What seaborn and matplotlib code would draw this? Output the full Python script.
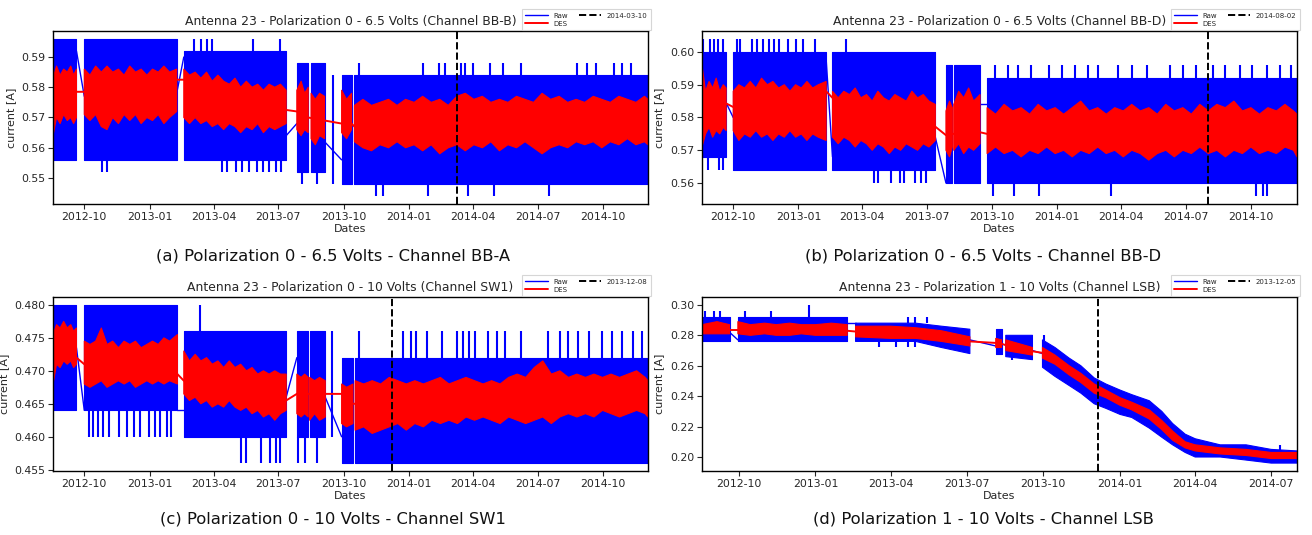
import numpy as np
import pandas as pd
import matplotlib
matplotlib.use("Agg")
import matplotlib.pyplot as plt
import matplotlib.dates as mdates
import seaborn as sns

# ---------------- (a) Channel BB-B ----------------
A_TITLE = "Antenna 23 - Polarization 0 - 6.5 Volts (Channel BB-B)"
A_CAPTION = "(a) Polarization 0 - 6.5 Volts - Channel BB-A"
A_EVENT = "2014-03-10"
A_RAW_DATES = ["2012-08-18", "2012-09-20", "2012-09-25", "2012-10-01", "2013-02-08", "2013-02-13",
               "2013-02-18", "2013-07-12", "2013-07-20", "2013-07-27", "2013-08-12", "2013-08-14",
               "2013-08-16", "2013-09-04", "2013-09-15", "2013-09-28", "2013-10-12", "2013-10-14",
               "2013-10-16", "2014-12-03"]
A_RAW_LO = [0.556, 0.556, None, 0.556, 0.556, None, 0.556, 0.556, None, 0.552, 0.552, None,
            0.552, 0.552, None, 0.548, 0.548, None, 0.548, 0.548]
A_RAW_HI = [0.596, 0.596, None, 0.596, 0.596, None, 0.592, 0.592, None, 0.588, 0.588, None,
            0.588, 0.588, None, 0.584, 0.584, None, 0.584, 0.584]
A_SPIKE_DATES = ["2012-10-26", "2012-11-02",
                 "2013-03-05", "2013-03-14", "2013-03-22", "2013-03-30", "2013-05-26", "2013-07-03",
                 "2013-04-13", "2013-04-20", "2013-05-02", "2013-05-11", "2013-05-21", "2013-06-01",
                 "2013-06-09", "2013-06-18", "2013-06-27", "2013-07-05",
                 "2013-08-03", "2013-08-24", "2013-09-16",
                 "2013-10-22", "2014-01-20", "2014-02-12", "2014-02-20", "2014-03-15", "2014-03-20",
                 "2014-04-01", "2014-04-25", "2014-05-13", "2014-06-08", "2014-08-25", "2014-09-08",
                 "2014-09-21", "2014-10-16", "2014-10-27", "2014-11-09",
                 "2013-11-15", "2013-11-25", "2014-01-28", "2014-03-25", "2014-05-01", "2014-07-17"]
A_SPIKE_LO = [0.552] * 2 + [0.592] * 6 + [0.552] * 10 + [0.548] * 2 + [0.548] + [0.584] * 16 + [0.544] * 6
A_SPIKE_HI = [0.556] * 2 + [0.596] * 6 + [0.556] * 10 + [0.552] * 2 + [0.584] + [0.588] * 16 + [0.548] * 6
A_LINK_START = ["2012-09-20", "2013-02-08", "2013-07-12", "2013-09-04"]
A_LINK_END = ["2012-10-01", "2013-02-18", "2013-07-27", "2013-09-28"]
A_LINK_V0 = [0.592, 0.578, 0.564, 0.562]
A_LINK_V1 = [0.577, 0.590, 0.568, 0.556]
A_DES_DATES = ["2012-08-18", "2012-08-23", "2012-08-28", "2012-09-02", "2012-09-07", "2012-09-12",
               "2012-09-16", "2012-09-20", "2012-09-25",
               "2012-10-01", "2012-10-09", "2012-10-17", "2012-10-25", "2012-11-02", "2012-11-10",
               "2012-11-18", "2012-11-26", "2012-12-04", "2012-12-12", "2012-12-20", "2012-12-28",
               "2013-01-05", "2013-01-13", "2013-01-21", "2013-01-29", "2013-02-08", "2013-02-13",
               "2013-02-18", "2013-02-26", "2013-03-06", "2013-03-14", "2013-03-22", "2013-03-30",
               "2013-04-07", "2013-04-15", "2013-04-23", "2013-05-01", "2013-05-09", "2013-05-17",
               "2013-05-25", "2013-06-02", "2013-06-10", "2013-06-18", "2013-06-26", "2013-07-04",
               "2013-07-12", "2013-07-20",
               "2013-07-27", "2013-08-02", "2013-08-07", "2013-08-12", "2013-08-14",
               "2013-08-16", "2013-08-22", "2013-08-28", "2013-09-04", "2013-09-15",
               "2013-09-28", "2013-10-05", "2013-10-12", "2013-10-14",
               "2013-10-16", "2013-10-28", "2013-11-09", "2013-11-21", "2013-12-03", "2013-12-15",
               "2013-12-27", "2014-01-08", "2014-01-20", "2014-02-01", "2014-02-13", "2014-02-25",
               "2014-03-09", "2014-03-21", "2014-04-02", "2014-04-14", "2014-04-26", "2014-05-08",
               "2014-05-20", "2014-06-01", "2014-06-13", "2014-06-25", "2014-07-07", "2014-07-19",
               "2014-07-31", "2014-08-12", "2014-08-24", "2014-09-05", "2014-09-17", "2014-09-29",
               "2014-10-11", "2014-10-23", "2014-11-04", "2014-11-16", "2014-11-28", "2014-12-03"]
A_DES_LO = [0.564, 0.570, 0.568, 0.571, 0.569, 0.570, 0.568, 0.570, None,
            0.571, 0.569, 0.571, 0.567, 0.566, 0.570, 0.568, 0.571, 0.569, 0.571, 0.568, 0.570,
            0.569, 0.571, 0.568, 0.570, 0.572, None,
            0.570, 0.568, 0.570, 0.568, 0.569, 0.567, 0.568, 0.566, 0.568, 0.567, 0.565, 0.567,
            0.566, 0.568, 0.565, 0.567, 0.566, 0.567, 0.568, None,
            0.566, 0.564, 0.566, 0.565, None,
            0.563, 0.561, 0.564, 0.563, None,
            0.565, 0.563, 0.566, None,
            0.562, 0.560, 0.559, 0.561, 0.560, 0.562, 0.560, 0.561, 0.559, 0.561, 0.558, 0.560,
            0.561, 0.559, 0.561, 0.560, 0.562, 0.559, 0.561, 0.560, 0.562, 0.560, 0.558, 0.560,
            0.561, 0.560, 0.562, 0.561, 0.562, 0.560, 0.562, 0.561, 0.563, 0.561, 0.562, 0.561]
A_DES_HI = [0.583, 0.587, 0.584, 0.586, 0.585, 0.587, 0.584, 0.586, None,
            0.586, 0.584, 0.587, 0.585, 0.587, 0.585, 0.586, 0.584, 0.587, 0.585, 0.586, 0.584,
            0.586, 0.585, 0.587, 0.585, 0.586, None,
            0.586, 0.584, 0.585, 0.583, 0.585, 0.582, 0.584, 0.582, 0.581, 0.583, 0.580, 0.582,
            0.580, 0.581, 0.579, 0.581, 0.580, 0.581, 0.579, None,
            0.579, 0.582, 0.578, 0.580, None,
            0.578, 0.576, 0.578, 0.577, None,
            0.579, 0.576, 0.578, None,
            0.574, 0.576, 0.574, 0.575, 0.576, 0.574, 0.576, 0.575, 0.577, 0.575, 0.576, 0.574,
            0.577, 0.578, 0.576, 0.577, 0.575, 0.576, 0.575, 0.577, 0.576, 0.575, 0.578, 0.576,
            0.577, 0.575, 0.576, 0.575, 0.577, 0.576, 0.575, 0.577, 0.576, 0.575, 0.577, 0.576]
A_MID_DATES = ["2012-08-18", "2012-09-20", "2012-10-01", "2013-02-08", "2013-02-18", "2013-07-12",
               "2013-07-27", "2013-08-12", "2013-09-04", "2013-09-28", "2013-10-12", "2013-10-16",
               "2014-12-03"]
A_MID = [0.577, 0.5785, 0.5785, 0.5825, 0.5825, 0.5725, 0.572, 0.570, 0.569, 0.568, 0.568, 0.567, 0.568]

# ---------------- (b) Channel BB-D ----------------
B_TITLE = "Antenna 23 - Polarization 0 - 6.5 Volts (Channel BB-D)"
B_CAPTION = "(b) Polarization 0 - 6.5 Volts - Channel BB-D"
B_EVENT = "2014-08-02"
B_RAW_DATES = ["2012-08-18", "2012-09-21", "2012-09-25", "2012-10-01", "2013-02-09", "2013-02-13",
               "2013-02-18", "2013-07-13", "2013-07-20", "2013-07-28", "2013-08-06", "2013-08-07",
               "2013-08-08", "2013-09-14", "2013-09-18", "2013-09-24", "2014-12-05"]
B_RAW_LO = [0.568, 0.568, None, 0.564, 0.564, None, 0.564, 0.564, None, 0.560, 0.560, None,
            0.560, 0.560, None, 0.560, 0.560]
B_RAW_HI = [0.600, 0.600, None, 0.600, 0.600, None, 0.600, 0.600, None, 0.596, 0.596, None,
            0.596, 0.596, None, 0.592, 0.592]
B_SPIKE_DATES = ["2012-08-19", "2012-08-29", "2012-09-04", "2012-09-09", "2012-09-17",
                 "2012-08-26", "2012-09-11", "2012-09-16",
                 "2012-10-07", "2012-10-11", "2012-10-28", "2012-11-04", "2012-11-12", "2012-11-21",
                 "2012-11-28", "2012-12-05", "2012-12-17", "2012-12-29", "2013-01-08", "2013-01-24",
                 "2013-03-09",
                 "2013-04-17", "2013-04-23", "2013-05-12", "2013-05-24", "2013-05-30", "2013-06-14",
                 "2013-06-23", "2013-06-30",
                 "2013-10-05", "2013-10-23", "2013-11-07", "2013-11-25", "2013-12-21", "2014-01-08",
                 "2014-01-26", "2014-02-13", "2014-02-28", "2014-03-27", "2014-04-16", "2014-05-07",
                 "2014-06-09", "2014-06-27", "2014-07-15", "2014-08-08", "2014-08-25", "2014-09-15",
                 "2014-10-03", "2014-10-24", "2014-11-11", "2014-11-26",
                 "2013-10-02", "2013-11-01", "2013-12-06", "2014-03-18", "2014-10-08", "2014-10-18",
                 "2014-10-24"]
B_SPIKE_LO = [0.600] * 5 + [0.564] * 3 + [0.600] * 12 + [0.600] + [0.560] * 8 + [0.592] * 22 + [0.556] * 7
B_SPIKE_HI = [0.604] * 5 + [0.568] * 3 + [0.604] * 12 + [0.604] + [0.564] * 8 + [0.596] * 22 + [0.560] * 7
B_LINK_START = ["2012-09-21", "2013-02-09", "2013-07-13", "2013-09-14"]
B_LINK_END = ["2012-10-01", "2013-02-18", "2013-07-28", "2013-09-24"]
B_LINK_V0 = [0.5845, 0.598, 0.574, 0.584]
B_LINK_V1 = [0.580, 0.568, 0.560, 0.584]
B_DES_DATES = ["2012-08-18", "2012-08-23", "2012-08-28", "2012-09-02", "2012-09-07", "2012-09-12",
               "2012-09-17", "2012-09-21", "2012-09-25",
               "2012-10-01", "2012-10-09", "2012-10-17", "2012-10-25", "2012-11-02", "2012-11-10",
               "2012-11-18", "2012-11-26", "2012-12-04", "2012-12-12", "2012-12-20", "2012-12-28",
               "2013-01-05", "2013-01-13", "2013-01-21", "2013-01-29", "2013-02-09", "2013-02-13",
               "2013-02-18", "2013-02-26", "2013-03-06", "2013-03-14", "2013-03-22", "2013-03-30",
               "2013-04-07", "2013-04-15", "2013-04-23", "2013-05-01", "2013-05-09", "2013-05-17",
               "2013-05-25", "2013-06-02", "2013-06-10", "2013-06-18", "2013-06-26", "2013-07-04",
               "2013-07-13", "2013-07-20",
               "2013-07-28", "2013-08-02", "2013-08-06", "2013-08-07",
               "2013-08-08", "2013-08-15", "2013-08-22", "2013-08-29", "2013-09-05", "2013-09-14",
               "2013-09-18",
               "2013-09-24", "2013-10-06", "2013-10-18", "2013-10-30", "2013-11-11", "2013-11-23",
               "2013-12-05", "2013-12-17", "2013-12-29", "2014-01-10", "2014-01-22", "2014-02-03",
               "2014-02-15", "2014-02-27", "2014-03-11", "2014-03-23", "2014-04-04", "2014-04-16",
               "2014-04-28", "2014-05-10", "2014-05-22", "2014-06-03", "2014-06-15", "2014-06-27",
               "2014-07-09", "2014-07-21", "2014-08-02", "2014-08-14", "2014-08-26", "2014-09-07",
               "2014-09-19", "2014-10-01", "2014-10-13", "2014-10-25", "2014-11-06", "2014-11-18",
               "2014-11-30", "2014-12-05"]
B_DES_LO = [0.571, 0.575, 0.577, 0.574, 0.576, 0.575, 0.577, 0.576, None,
            0.576, 0.573, 0.575, 0.574, 0.576, 0.574, 0.575, 0.573, 0.575, 0.574, 0.576, 0.574,
            0.575, 0.573, 0.575, 0.574, 0.573, None,
            0.574, 0.572, 0.574, 0.573, 0.571, 0.573, 0.572, 0.570, 0.572, 0.571, 0.569, 0.571,
            0.570, 0.572, 0.571, 0.570, 0.572, 0.571, 0.573, None,
            0.570, 0.568, 0.571, None,
            0.570, 0.572, 0.569, 0.571, 0.570, 0.572, None,
            0.569, 0.571, 0.569, 0.570, 0.568, 0.570, 0.569, 0.571, 0.569, 0.570, 0.568, 0.570,
            0.569, 0.571, 0.569, 0.570, 0.568, 0.570, 0.569, 0.567, 0.569, 0.570, 0.568, 0.570,
            0.569, 0.571, 0.569, 0.570, 0.568, 0.570, 0.569, 0.571, 0.569, 0.570, 0.569, 0.571,
            0.570, 0.568]
B_DES_HI = [0.596, 0.588, 0.591, 0.589, 0.592, 0.588, 0.590, 0.589, None,
            0.588, 0.590, 0.589, 0.591, 0.589, 0.592, 0.590, 0.591, 0.589, 0.590, 0.588, 0.590,
            0.589, 0.591, 0.589, 0.590, 0.591, None,
            0.588, 0.586, 0.588, 0.587, 0.589, 0.586, 0.587, 0.585, 0.588, 0.586, 0.585, 0.587,
            0.586, 0.585, 0.588, 0.586, 0.587, 0.585, 0.584, None,
            0.582, 0.585, 0.583, None,
            0.584, 0.588, 0.586, 0.589, 0.585, 0.587, None,
            0.583, 0.581, 0.584, 0.582, 0.583, 0.581, 0.584, 0.582, 0.583, 0.581, 0.583, 0.585,
            0.582, 0.583, 0.581, 0.583, 0.582, 0.584, 0.582, 0.583, 0.581, 0.584, 0.582, 0.583,
            0.581, 0.584, 0.582, 0.584, 0.583, 0.585, 0.582, 0.583, 0.581, 0.583, 0.582, 0.584,
            0.582, 0.581]
B_MID_DATES = ["2012-08-18", "2012-09-21", "2012-10-01", "2013-02-09", "2013-02-18", "2013-07-13",
               "2013-07-28", "2013-08-06", "2013-08-08", "2013-09-14", "2013-09-24", "2014-12-05"]
B_MID = [0.583, 0.5843, 0.5832, 0.588, 0.586, 0.5772, 0.5746, 0.575, 0.575, 0.5755, 0.575, 0.576]

# ---------------- (c) Channel SW1 ----------------
C_TITLE = "Antenna 23 - Polarization 0 - 10 Volts (Channel SW1)"
C_CAPTION = "(c) Polarization 0 - 10 Volts - Channel SW1"
C_EVENT = "2013-12-08"
C_RAW_DATES = ["2012-08-18", "2012-09-20", "2012-09-25", "2012-10-01", "2013-02-09", "2013-02-13",
               "2013-02-18", "2013-07-12", "2013-07-20", "2013-07-27", "2013-08-12", "2013-08-13",
               "2013-08-14", "2013-09-05", "2013-09-15", "2013-09-28", "2013-10-14", "2013-10-15",
               "2013-10-17", "2014-12-03"]
C_RAW_LO = [0.464, 0.464, None, 0.464, 0.464, None, 0.460, 0.460, None, 0.460, 0.460, None,
            0.460, 0.460, None, 0.456, 0.456, None, 0.456, 0.456]
C_RAW_HI = [0.480, 0.480, None, 0.480, 0.480, None, 0.476, 0.476, None, 0.476, 0.476, None,
            0.476, 0.476, None, 0.472, 0.472, None, 0.472, 0.472]
C_SPIKE_DATES = ["2012-10-07", "2012-10-13", "2012-10-20", "2012-10-28", "2012-11-05", "2012-11-19",
                 "2012-11-30", "2012-12-10", "2012-12-19", "2012-12-31", "2013-01-08", "2013-01-16",
                 "2013-01-25", "2013-01-31",
                 "2013-03-13",
                 "2013-05-09", "2013-05-17", "2013-06-07", "2013-06-19", "2013-06-28", "2013-07-04",
                 "2013-07-29", "2013-08-07", "2013-08-25",
                 "2013-09-15",
                 "2013-10-23", "2013-12-24", "2014-01-03", "2014-01-10", "2014-01-26", "2014-02-16",
                 "2014-03-09", "2014-03-18", "2014-03-26", "2014-04-03", "2014-04-22", "2014-05-04",
                 "2014-05-16", "2014-06-08", "2014-07-15", "2014-08-01", "2014-08-12", "2014-08-27",
                 "2014-09-11", "2014-09-29", "2014-10-14", "2014-10-28", "2014-11-12", "2014-11-24"]
C_SPIKE_LO = [0.460] * 14 + [0.476] + [0.456] * 6 + [0.456] * 3 + [0.460] + [0.472] * 24
C_SPIKE_HI = [0.464] * 14 + [0.480] + [0.460] * 6 + [0.460] * 3 + [0.476] + [0.476] * 24
C_LINK_START = ["2012-09-20", "2013-02-09", "2013-07-12", "2013-09-05"]
C_LINK_END = ["2012-10-01", "2013-02-18", "2013-07-27", "2013-09-28"]
C_LINK_V0 = [0.4735, 0.464, 0.466, 0.466]
C_LINK_V1 = [0.464, 0.464, 0.472, 0.460]
C_DES_DATES = ["2012-08-18", "2012-08-23", "2012-08-28", "2012-09-02", "2012-09-07", "2012-09-12",
               "2012-09-16", "2012-09-20", "2012-09-25",
               "2012-10-01", "2012-10-09", "2012-10-17", "2012-10-25", "2012-11-02", "2012-11-10",
               "2012-11-18", "2012-11-26", "2012-12-04", "2012-12-12", "2012-12-20", "2012-12-28",
               "2013-01-05", "2013-01-13", "2013-01-21", "2013-01-29", "2013-02-09", "2013-02-13",
               "2013-02-18", "2013-02-26", "2013-03-06", "2013-03-14", "2013-03-22", "2013-03-30",
               "2013-04-07", "2013-04-15", "2013-04-23", "2013-05-01", "2013-05-09", "2013-05-17",
               "2013-05-25", "2013-06-02", "2013-06-10", "2013-06-18", "2013-06-26", "2013-07-04",
               "2013-07-12", "2013-07-20",
               "2013-07-27", "2013-08-02", "2013-08-07", "2013-08-12", "2013-08-13",
               "2013-08-14", "2013-08-21", "2013-08-28", "2013-09-05", "2013-09-15",
               "2013-09-28", "2013-10-05", "2013-10-14", "2013-10-15",
               "2013-10-17", "2013-10-29", "2013-11-10", "2013-11-22", "2013-12-04", "2013-12-16",
               "2013-12-28", "2014-01-09", "2014-01-21", "2014-02-02", "2014-02-14", "2014-02-26",
               "2014-03-10", "2014-03-22", "2014-04-03", "2014-04-15", "2014-04-27", "2014-05-09",
               "2014-05-21", "2014-06-02", "2014-06-14", "2014-06-26", "2014-07-08", "2014-07-20",
               "2014-08-01", "2014-08-13", "2014-08-25", "2014-09-06", "2014-09-18", "2014-09-30",
               "2014-10-12", "2014-10-24", "2014-11-05", "2014-11-17", "2014-11-29", "2014-12-03"]
C_DES_LO = [0.468, 0.471, 0.4705, 0.4715, 0.471, 0.4715, 0.4705, 0.471, None,
            0.468, 0.4675, 0.468, 0.4685, 0.4675, 0.468, 0.4685, 0.468, 0.4685, 0.4675, 0.468,
            0.4685, 0.468, 0.4685, 0.468, 0.4685, 0.468, None,
            0.4665, 0.4655, 0.466, 0.465, 0.4655, 0.4645, 0.465, 0.4645, 0.4655, 0.4645, 0.464,
            0.4645, 0.4635, 0.464, 0.463, 0.4635, 0.4625, 0.4635, 0.464, None,
            0.4635, 0.463, 0.4635, 0.463, None,
            0.4625, 0.4635, 0.4625, 0.463, None,
            0.462, 0.4615, 0.462, None,
            0.461, 0.4615, 0.4605, 0.461, 0.4615, 0.462, 0.461, 0.462, 0.4615, 0.4625, 0.462,
            0.4625, 0.462, 0.463, 0.4625, 0.463, 0.4625, 0.462, 0.463, 0.4625, 0.462, 0.4625,
            0.463, 0.462, 0.463, 0.4635, 0.463, 0.4635, 0.463, 0.464, 0.4635, 0.463, 0.4635,
            0.464, 0.4635, 0.463]
C_DES_HI = [0.4755, 0.477, 0.4765, 0.4775, 0.4765, 0.477, 0.476, 0.4765, None,
            0.4745, 0.474, 0.4745, 0.4765, 0.474, 0.4745, 0.4735, 0.4745, 0.474, 0.4745, 0.4735,
            0.474, 0.4745, 0.474, 0.475, 0.4745, 0.4755, None,
            0.473, 0.4715, 0.4725, 0.4715, 0.472, 0.471, 0.4715, 0.4705, 0.4715, 0.4705, 0.471,
            0.470, 0.4705, 0.4695, 0.470, 0.4695, 0.470, 0.4695, 0.4695, None,
            0.4695, 0.469, 0.4695, 0.469, None,
            0.469, 0.4685, 0.469, 0.4685, None,
            0.468, 0.4675, 0.468, None,
            0.4685, 0.468, 0.4685, 0.468, 0.469, 0.4685, 0.468, 0.4685, 0.468, 0.4685, 0.469,
            0.468, 0.4685, 0.469, 0.4685, 0.468, 0.4685, 0.468, 0.469, 0.4695, 0.469, 0.4705,
            0.4715, 0.4695, 0.470, 0.469, 0.4695, 0.469, 0.4695, 0.469, 0.4695, 0.469, 0.4695,
            0.470, 0.469, 0.4685]
C_MID_DATES = ["2012-08-18", "2012-09-20", "2012-10-01", "2013-02-09", "2013-02-18", "2013-07-12",
               "2013-07-27", "2013-09-05", "2013-09-28", "2013-10-14", "2013-10-17", "2014-06-01",
               "2014-12-03"]
C_MID = [0.4735, 0.472, 0.471, 0.4695, 0.4685, 0.4655, 0.4665, 0.4665, 0.4665, 0.465, 0.465, 0.4658, 0.466]

# ---------------- (d) Channel LSB ----------------
D_TITLE = "Antenna 23 - Polarization 1 - 10 Volts (Channel LSB)"
D_CAPTION = "(d) Polarization 1 - 10 Volts - Channel LSB"
D_EVENT = "2013-12-05"
D_RAW_DATES = ["2012-08-18", "2012-09-20", "2012-09-25", "2012-09-30", "2013-02-08", "2013-02-13",
               "2013-02-18", "2013-05-01", "2013-06-01", "2013-07-05", "2013-07-20", "2013-08-05",
               "2013-08-12", "2013-08-15", "2013-08-17", "2013-09-18", "2013-09-24", "2013-09-30",
               "2013-10-15", "2013-11-01", "2013-11-15", "2013-12-01", "2013-12-15", "2014-01-01",
               "2014-01-15", "2014-02-05", "2014-02-20", "2014-03-05", "2014-03-20", "2014-04-01",
               "2014-05-01", "2014-06-01", "2014-07-01", "2014-08-01"]
D_RAW_LO = [0.276, 0.276, None, 0.276, 0.276, None, 0.276, 0.276, 0.272, 0.268, None, 0.268,
            0.268, None, 0.266, 0.264, None, 0.259, 0.253, 0.247, 0.242, 0.235, 0.232, 0.228,
            0.226, 0.219, 0.213, 0.208, 0.203, 0.200, 0.200, 0.198, 0.196, 0.196]
D_RAW_HI = [0.292, 0.292, None, 0.292, 0.292, None, 0.288, 0.288, 0.286, 0.284, None, 0.284,
            0.284, None, 0.280, 0.280, None, 0.277, 0.272, 0.265, 0.260, 0.252, 0.248, 0.244,
            0.241, 0.237, 0.230, 0.222, 0.215, 0.212, 0.208, 0.208, 0.205, 0.204]
D_SPIKE_DATES = ["2012-08-22", "2012-09-01", "2012-09-09", "2012-10-08", "2012-11-09", "2012-12-24",
                 "2013-03-18", "2013-04-07", "2013-04-22", "2013-04-30",
                 "2013-04-22", "2013-04-30", "2013-05-15",
                 "2013-08-25", "2013-10-02", "2014-07-12"]
D_SPIKE_LO = [0.292] * 6 + [0.272] * 4 + [0.288] * 3 + [0.264, 0.276, 0.204]
D_SPIKE_HI = [0.296] * 5 + [0.300] + [0.276] * 4 + [0.292] * 3 + [0.268, 0.280, 0.208]
D_LINK_START = ["2012-09-20", "2013-02-08", "2013-07-05", "2013-09-18"]
D_LINK_END = ["2012-09-30", "2013-02-18", "2013-08-05", "2013-09-30"]
D_LINK_V0 = [0.282, 0.288, 0.277, 0.270]
D_LINK_V1 = [0.277, 0.288, 0.273, 0.268]
D_DES_DATES = ["2012-08-18", "2012-09-05", "2012-09-20", "2012-09-25",
               "2012-09-30", "2012-10-15", "2012-11-01", "2012-11-15", "2012-12-01", "2012-12-15",
               "2013-01-01", "2013-01-20", "2013-02-08", "2013-02-13",
               "2013-02-18", "2013-04-01", "2013-05-01", "2013-06-01", "2013-07-05", "2013-07-20",
               "2013-08-05", "2013-08-12", "2013-08-15",
               "2013-08-17", "2013-09-18", "2013-09-24",
               "2013-09-30", "2013-10-15", "2013-11-01", "2013-11-15", "2013-12-01", "2013-12-15",
               "2014-01-01", "2014-01-15", "2014-02-05", "2014-02-20", "2014-03-05", "2014-03-20",
               "2014-04-01", "2014-05-01", "2014-06-01", "2014-07-01", "2014-08-01"]
D_DES_LO = [0.281, 0.281, 0.281, None,
            0.281, 0.280, 0.281, 0.280, 0.280, 0.281, 0.280, 0.280, 0.280, None,
            0.279, 0.278, 0.278, 0.276, 0.273, None,
            0.272, 0.272, None,
            0.270, 0.267, None,
            0.265, 0.261, 0.254, 0.249, 0.242, 0.239, 0.234, 0.231, 0.225, 0.218, 0.211, 0.206,
            0.204, 0.202, 0.201, 0.199, 0.199]
D_DES_HI = [0.287, 0.289, 0.287, None,
            0.289, 0.287, 0.288, 0.287, 0.288, 0.287, 0.287, 0.288, 0.287, None,
            0.286, 0.286, 0.285, 0.283, 0.279, None,
            0.278, 0.277, None,
            0.277, 0.272, None,
            0.272, 0.267, 0.260, 0.255, 0.248, 0.244, 0.239, 0.236, 0.231, 0.224, 0.217, 0.210,
            0.208, 0.206, 0.205, 0.203, 0.203]
D_MID_DATES = ["2012-08-18", "2012-09-20", "2012-09-30", "2013-02-08", "2013-02-18", "2013-05-01",
               "2013-06-01", "2013-07-05", "2013-08-05", "2013-08-12", "2013-08-17", "2013-09-18",
               "2013-09-30", "2013-10-15", "2013-11-01", "2013-11-15", "2013-12-01", "2013-12-15",
               "2014-01-01", "2014-01-15", "2014-02-05", "2014-02-20", "2014-03-05", "2014-03-20",
               "2014-04-01", "2014-05-01", "2014-06-01", "2014-07-01", "2014-08-01"]
D_MID = [0.284, 0.2835, 0.2835, 0.283, 0.2825, 0.2815, 0.2795, 0.276, 0.275, 0.2745, 0.2735, 0.2695,
         0.2685, 0.264, 0.257, 0.252, 0.245, 0.2415, 0.2365, 0.2335, 0.228, 0.221, 0.214, 0.208,
         0.206, 0.204, 0.203, 0.201, 0.201]

BLUE = "#0000ff"
RED = "#ff0000"


def to_dt(dates):
    return pd.to_datetime(pd.Series(dates)).to_numpy()


def as_float(vals):
    return np.array([np.nan if v is None else v for v in vals], dtype=float)


def draw_panel(ax, title, event, raw, spikes, links, des, mid):
    raw_d, raw_lo, raw_hi = raw
    assert len(raw_d) == len(raw_lo) == len(raw_hi)
    ax.fill_between(to_dt(raw_d), as_float(raw_lo), as_float(raw_hi),
                    color=BLUE, lw=0.8, zorder=1)

    sp_d, sp_lo, sp_hi = spikes
    assert len(sp_d) == len(sp_lo) == len(sp_hi)
    ax.vlines(to_dt(sp_d), sp_lo, sp_hi, colors=BLUE, lw=1.5, zorder=1.1)

    l0, l1, v0, v1 = links
    for i in range(len(l0)):
        ax.plot(to_dt([l0[i], l1[i]]), [v0[i], v1[i]], color=BLUE, lw=1.0,
                label="Raw" if i == 0 else "_nolegend_", zorder=1.2)

    des_d, des_lo, des_hi = des
    assert len(des_d) == len(des_lo) == len(des_hi)
    ax.fill_between(to_dt(des_d), as_float(des_lo), as_float(des_hi),
                    color=RED, lw=0.8, zorder=2)

    mid_d, mid_v = mid
    sns.lineplot(x=to_dt(mid_d), y=mid_v, color=RED, lw=1.4, ax=ax,
                 label="DES", estimator=None, sort=False, zorder=2.1)

    ax.axvline(pd.Timestamp(event), color="black", ls="--", lw=1.4, label=event, zorder=3)

    ax.set_xlim(pd.Timestamp(raw_d[0]), pd.Timestamp(raw_d[-1]))
    ax.set_title(title, fontsize=8.9, pad=4)
    ax.set_xlabel("Dates", fontsize=8, labelpad=2)
    ax.set_ylabel("current [A]", fontsize=8, labelpad=4)
    ax.xaxis.set_major_locator(mdates.MonthLocator(bymonth=[1, 4, 7, 10]))
    ax.xaxis.set_major_formatter(mdates.DateFormatter("%Y-%m"))
    ax.tick_params(labelsize=7.8, length=3.5, width=0.8, pad=2)
    for sp in ax.spines.values():
        sp.set_color("black")
        sp.set_linewidth(1.0)

    leg = ax.legend(loc="lower right", bbox_to_anchor=(1.006, 1.0), ncol=2, fontsize=5,
                    frameon=True, fancybox=False, borderpad=0.5, handlelength=3.2,
                    columnspacing=1.6, labelspacing=0.3, borderaxespad=0.1)
    leg.get_frame().set_edgecolor("#cccccc")
    leg.get_frame().set_linewidth(0.8)


sns.set_style("ticks")
plt.rcParams["font.family"] = ["DejaVu Sans"]

fig = plt.figure(figsize=(13.12, 5.35), dpi=100)
W, H = 1312.0, 535.0
boxes = [(53, 31, 648, 204), (702, 31, 1297, 204), (53, 297, 648, 471), (702, 297, 1297, 471)]
axes = [fig.add_axes([l / W, 1 - b / H, (r - l) / W, (b - t) / H]) for l, t, r, b in boxes]

panels = [
    (A_TITLE, A_EVENT, (A_RAW_DATES, A_RAW_LO, A_RAW_HI), (A_SPIKE_DATES, A_SPIKE_LO, A_SPIKE_HI),
     (A_LINK_START, A_LINK_END, A_LINK_V0, A_LINK_V1), (A_DES_DATES, A_DES_LO, A_DES_HI),
     (A_MID_DATES, A_MID)),
    (B_TITLE, B_EVENT, (B_RAW_DATES, B_RAW_LO, B_RAW_HI), (B_SPIKE_DATES, B_SPIKE_LO, B_SPIKE_HI),
     (B_LINK_START, B_LINK_END, B_LINK_V0, B_LINK_V1), (B_DES_DATES, B_DES_LO, B_DES_HI),
     (B_MID_DATES, B_MID)),
    (C_TITLE, C_EVENT, (C_RAW_DATES, C_RAW_LO, C_RAW_HI), (C_SPIKE_DATES, C_SPIKE_LO, C_SPIKE_HI),
     (C_LINK_START, C_LINK_END, C_LINK_V0, C_LINK_V1), (C_DES_DATES, C_DES_LO, C_DES_HI),
     (C_MID_DATES, C_MID)),
    (D_TITLE, D_EVENT, (D_RAW_DATES, D_RAW_LO, D_RAW_HI), (D_SPIKE_DATES, D_SPIKE_LO, D_SPIKE_HI),
     (D_LINK_START, D_LINK_END, D_LINK_V0, D_LINK_V1), (D_DES_DATES, D_DES_LO, D_DES_HI),
     (D_MID_DATES, D_MID)),
]
for ax, p in zip(axes, panels):
    draw_panel(ax, *p)

captions = [A_CAPTION, B_CAPTION, C_CAPTION, D_CAPTION]
cap_pos = [(333, 256), (983, 256), (333, 519), (983, 519)]
for text, (x, y) in zip(captions, cap_pos):
    fig.text(x / W, 1 - y / H, text, ha="center", va="center", fontsize=11.8, color="#111111")

fig.savefig("out.png", dpi=100)
